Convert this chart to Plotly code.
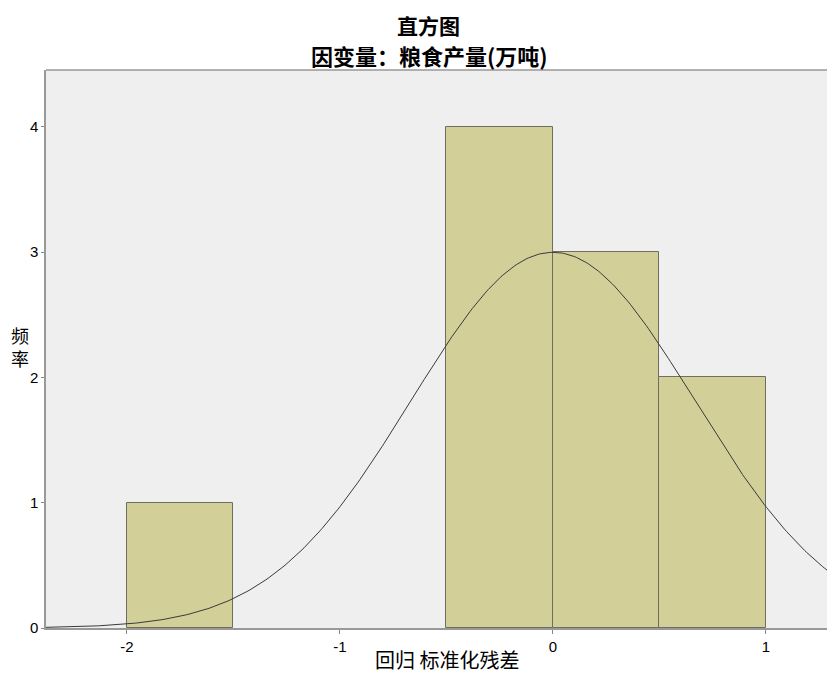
import numpy as np
import plotly.graph_objects as go

# Histogram data (bin left edges, counts)
bin_lefts = [-2.0, -0.5, 0.0, 0.5]
counts = [1, 4, 3, 2]
bin_width = 0.5

# Normal curve parameters
mean_val = 0.0
std_val = 0.665
n_obs = 10

x_ticks = [-2, -1, 0, 1]
x_tick_labels = ["-2", "-1", "0", "1"]
y_ticks = [0, 1, 2, 3, 4]
y_tick_labels = ["0", "1", "2", "3", "4"]

title_main = "直方图"
title_sub = "因变量：粮食产量(万吨)"
x_title = "回归 标准化残差"
y_title = "频<br>率"

centers = [l + bin_width / 2 for l in bin_lefts]

xs = np.linspace(-2.4, 1.35, 400)
ys = n_obs * bin_width / (std_val * np.sqrt(2 * np.pi)) * np.exp(-((xs - mean_val) ** 2) / (2 * std_val ** 2))

# page has an 8px body margin; lay out in on-screen pixels
OFF = 8
W, H = 835 - OFF, 676 - OFF
L, R, T = 46 - OFF, 0, 70 - OFF
B = H - (628 - OFF)
pw, ph = W - L - R, H - T - B


def px_x(p):
    return (p - OFF - L) / pw


def px_y(p):
    return (H - B - (p - OFF)) / ph


fig = go.Figure()
fig.add_trace(go.Bar(
    x=centers, y=counts, width=bin_width,
    marker=dict(color="#D3CF98", line=dict(color="#6E6E5E", width=1)),
    hoverinfo="x+y",
))
fig.add_trace(go.Scatter(
    x=xs, y=ys, mode="lines",
    line=dict(color="#3A3A3A", width=1),
    hoverinfo="skip",
))

cjk = "Noto Sans CJK SC"
annotations = [
    dict(text=f"<b>{title_main}</b>", x=px_x(428), y=px_y(8), xref="paper", yref="paper", showarrow=False,
         font=dict(family=cjk, size=21, color="black"), xanchor="center", yanchor="top"),
    dict(text=f"<b>{title_sub}</b>", x=px_x(429), y=px_y(55), xref="paper", yref="paper", showarrow=False,
         font=dict(family=cjk, size=22, color="black"), xanchor="center", yanchor="middle"),
    dict(text=x_title, x=px_x(447), y=px_y(676), xref="paper", yref="paper", showarrow=False,
         font=dict(family=cjk, size=20, color="black"), xanchor="center", yanchor="bottom"),
    dict(text=y_title, x=px_x(20), y=px_y(346), xref="paper", yref="paper", showarrow=False,
         font=dict(family=cjk, size=18, color="black"), xanchor="center", yanchor="middle"),
]

fig.update_layout(
    width=W, height=H,
    margin=dict(l=L, r=R, t=T, b=B, autoexpand=False),
    paper_bgcolor="white",
    plot_bgcolor="#EFEFEF",
    showlegend=False,
    bargap=0,
    font=dict(family="Liberation Sans, Arial", color="black", size=14),
    annotations=annotations,
    xaxis=dict(
        range=[-2.38, 1.324], tickvals=x_ticks, ticktext=x_tick_labels, ticks="outside", ticklen=4,
        tickcolor="#888888", showgrid=False, zeroline=False, automargin=False,
        showline=True, linecolor="#999999", linewidth=1.5,
        tickfont=dict(size=15),
    ),
    yaxis=dict(
        range=[0, 4.455], tickvals=y_ticks, ticktext=y_tick_labels, ticks="outside", ticklen=3,
        tickcolor="#888888", showgrid=False, zeroline=False, automargin=False,
        showline=True, linecolor="#999999", linewidth=1.5,
        tickfont=dict(size=15),
    ),
    shapes=[
        dict(type="line", xref="paper", yref="paper", x0=0, x1=1, y0=1, y1=1,
             line=dict(color="#999999", width=1.5)),
    ],
)

fig.write_html("out.html")
